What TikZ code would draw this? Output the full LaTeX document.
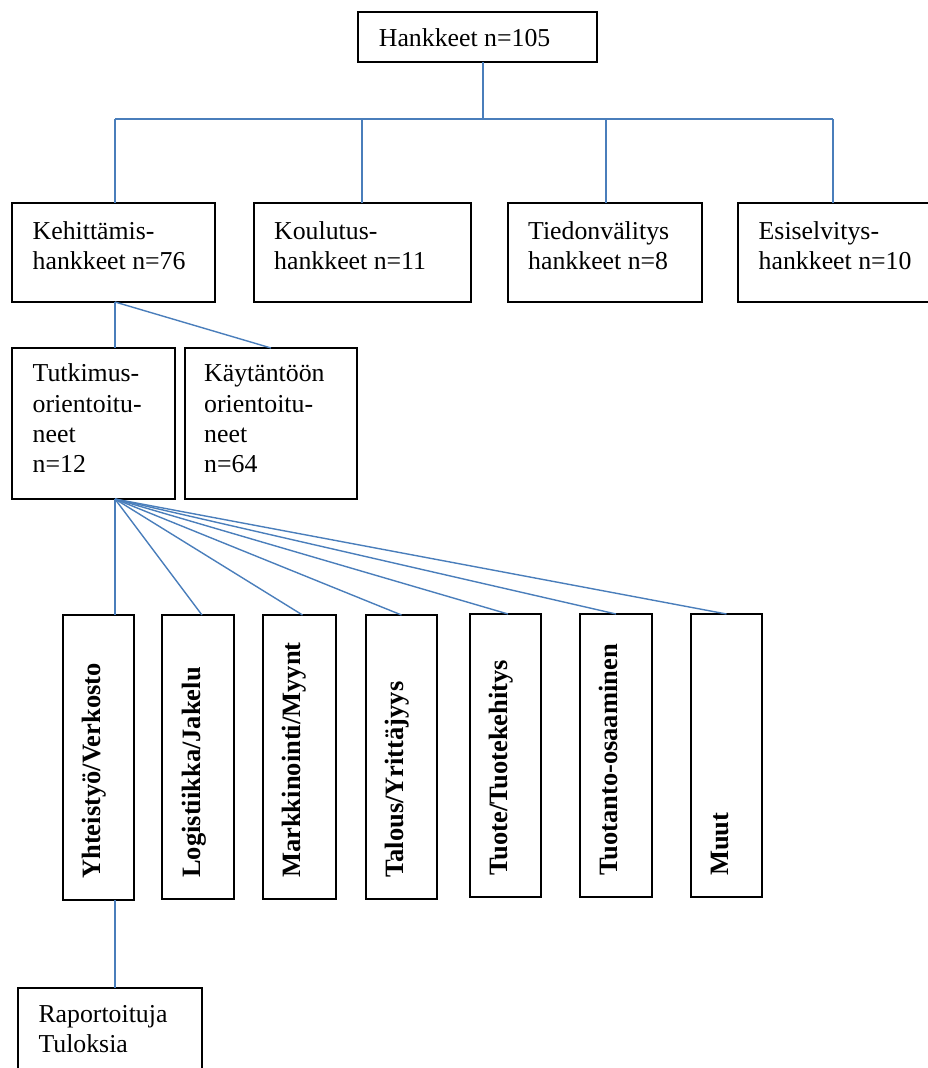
\documentclass[tikz,border=0pt]{standalone}
\usepackage{fontspec}
\setmainfont{Liberation Serif}
\definecolor{lb}{HTML}{4A7EBB}
\newcommand\mybox[5]{\node[box,minimum width={#4-#2},minimum height={#5-#3}] (#1) at ({(#2+#4)/2},{(#3+#5)/2}) {};}
\begin{document}
\begin{tikzpicture}[x=1pt,y=-1pt,
  box/.style={draw=black,line width=1.3pt,inner sep=0pt,outer sep=0pt},
  conn/.style={draw=lb,line width=1.4pt},
  txt/.style={anchor=north west,inner sep=0pt,align=left,font={\fontsize{25.8}{30.2}\selectfont}},
  vtxt/.style={rotate=90,anchor=base west,inner sep=0pt,font={\fontsize{26.5}{30}\selectfont\bfseries}}]
\useasboundingbox (0,0) rectangle (928,1068);
% boxes
\mybox{top}{358}{12}{597}{62}
\mybox{K}{12}{203}{215}{302}
\mybox{Ko}{254}{203}{471}{302}
\mybox{T}{508}{203}{702}{302}
\mybox{E}{738}{203}{930}{302}
\mybox{Tu}{12}{348}{175}{499}
\mybox{Ka}{185}{348}{357}{499}
\mybox{b1}{63}{615}{134}{900}
\mybox{b2}{162}{615}{234}{899}
\mybox{b3}{263}{615}{336}{899}
\mybox{b4}{366}{615}{437}{899}
\mybox{b5}{470}{614}{541}{897}
\mybox{b6}{580}{614}{652}{897}
\mybox{b7}{691}{614}{762}{897}
\mybox{R}{18}{988}{202}{1075}
% texts
\node[txt] (tTop) at (378.7,{46.7-21.1}) {\strut Hankkeet n=105};
\node[txt] (tK) at (32.5,{238.8-21.1}) {\strut Kehittämis-\\hankkeet n=76};
\node[txt] (tKo) at (274,{238.8-21.1}) {\strut Koulutus-\\hankkeet n=11};
\node[txt] (tT) at (528,{238.8-21.1}) {\strut Tiedonvälitys\\hankkeet n=8};
\node[txt] (tE) at (758.5,{238.8-21.1}) {\strut Esiselvitys-\\hankkeet n=10};
\node[txt] (tTu) at (32.5,{381.7-21.1}) {\strut Tutkimus-\\orientoitu-\\neet\\n=12};
\node[txt] (tKa) at (204,{381.7-21.1}) {\strut Käytäntöön\\orientoitu-\\neet\\n=64};
\node[txt] (tR) at (38.3,{1022-21.1}) {\strut Raportoituja\\Tuloksia};
\node[vtxt] (v1) at (100.5,879) {Yhteistyö/Verkosto};
\node[vtxt] (v2) at (200.5,878) {Logistiikka/Jakelu};
\node[vtxt] (v3) at (300.5,878) {Markkinointi/Myynt};
\node[vtxt] (v4) at (403.5,878) {Talous/Yrittäjyys};
\node[vtxt] (v5) at (507.5,876) {Tuote/Tuotekehitys};
\node[vtxt] (v6) at (617.5,876) {Tuotanto-osaaminen};
\node[vtxt] (v7) at (728,876) {Muut};
% connectors
\coordinate (barL) at (115,119);
\coordinate (barR) at (833,119);
\draw[conn] ([xshift=5.5pt]top.south) -- ([xshift=5.5pt]top.south |- barL);
\draw[conn] (barL) -- (barR);
\draw[conn] (barL) -- (barL |- K.north);
\draw[conn] ([xshift=-0.5pt]Ko.north) -- ([xshift=-0.5pt]Ko.north |- barL);
\draw[conn] ([xshift=1pt]T.north) -- ([xshift=1pt]T.north |- barL);
\draw[conn] (barR) -- (barR |- E.north);
\draw[conn] (K.south -| barL) -- (Tu.north -| barL);
\draw[conn] (K.south -| barL) -- (Ka.north);
\coordinate (fan) at (Tu.south -| barL);
\draw[conn] (fan) -- (b1.north -| barL);
\draw[conn] (fan) -- ([xshift=4pt]b2.north);
\draw[conn] (fan) -- ([xshift=3pt]b3.north);
\draw[conn] (fan) -- (b4.north);
\draw[conn] (fan) -- ([xshift=2.5pt]b5.north);
\draw[conn] (fan) -- (b6.north);
\draw[conn] (fan) -- (b7.north);
\draw[conn] (b1.south -| barL) -- (R.north -| barL);
\end{tikzpicture}
\end{document}
